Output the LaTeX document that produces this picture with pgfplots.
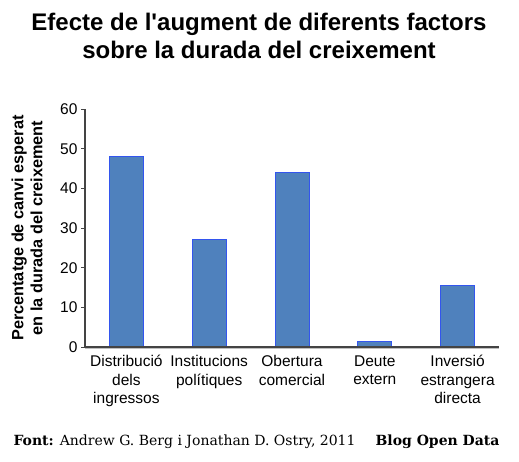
\documentclass[border=0pt]{standalone}
\usepackage{pgfplots}
\pgfplotsset{compat=1.18}
\usepackage{fontspec}
\setmainfont{Liberation Sans}
\newfontfamily\arialfont{Liberation Sans}
\newfontfamily\seriffont{DejaVu Serif}
\definecolor{barfill}{HTML}{4F81BD}
\definecolor{baredge}{HTML}{3355EE}
\definecolor{axgray}{HTML}{444444}
\begin{document}
\begin{tikzpicture}
\useasboundingbox (0pt,0pt) rectangle (519pt,462pt);
\begin{axis}[
  at={(85pt,115pt)}, anchor=south west,
  scale only axis, width=414pt, height=238pt,
  xmin=-0.5, xmax=4.5, ymin=0, ymax=60,
  ytick={0,10,...,60},
  xtick={0,1,2,3,4},
  xticklabels={Distribució\\dels\\ingressos, Institucions\\polítiques, Obertura\\comercial, Deute\\extern, Inversió\\estrangera\\directa},
  xticklabel style={align=center, font=\fontsize{15.5}{18.5}\selectfont, yshift=-1pt},
  yticklabel style={font=\fontsize{15.5}{16}\selectfont},
  /pgf/number format/assume math mode=true,
  axis x line*=bottom, axis y line*=left,
  axis line style={axgray, line width=1.2pt, -},
  x axis line style={draw=none},
  major x tick style={draw=none},
  ytick style={axgray, line width=0.6pt},
  tick align=outside, major tick length=4pt,
  clip=false,
]
\addplot[ybar, bar width=34pt, fill=barfill, draw=baredge, line width=0.8pt] coordinates {(0,48) (1,27) (2,44) (3,1.5) (4,15.6)};
\draw[gray!50, line width=1.5pt] ([yshift=-1.5pt]axis cs:-0.5,0) -- ([yshift=-1.5pt]axis cs:4.5,0);
\draw[axgray, line width=1.2pt] (axis cs:-0.5,0) -- (axis cs:4.5,0);
\end{axis}
\node[rotate=90, align=center, font=\arialfont\bfseries\fontsize{16.3}{19}\selectfont] at (27pt,234pt) {Percentatge de canvi esperat\\en la durada del creixement};
\node[font=\arialfont\bfseries\fontsize{24}{28}\selectfont, align=center] at (259pt,426pt) {Efecte de l'augment de diferents factors\\sobre la durada del creixement};
\node[anchor=base west, font=\seriffont\fontsize{14}{16}\selectfont] at (10pt,16pt) {\textbf{Font:} Andrew G. Berg i Jonathan D. Ostry, 2011};
\node[anchor=base east, font=\seriffont\bfseries\fontsize{14}{16}\selectfont] at (503pt,16pt) {Blog Open Data};
\end{tikzpicture}
\end{document}
